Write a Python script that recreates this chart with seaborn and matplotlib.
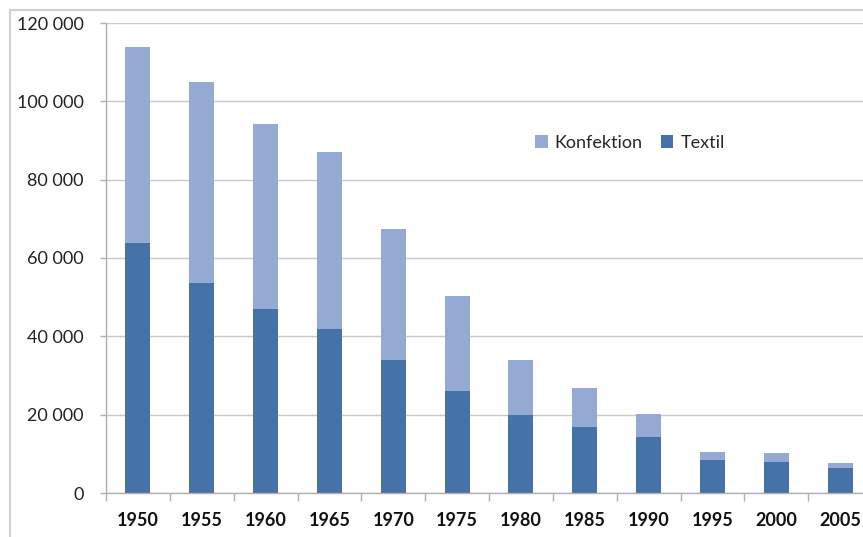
import numpy as np
import pandas as pd
import seaborn as sns
import matplotlib.pyplot as plt
from matplotlib.ticker import FuncFormatter, FixedLocator
from matplotlib.patches import Rectangle

# data
years = ["1950", "1955", "1960", "1965", "1970", "1975", "1980", "1985", "1990", "1995", "2000", "2005"]
textil = [63800, 53600, 47000, 41900, 34000, 26000, 19900, 16900, 14300, 8400, 7900, 6300]
konfektion = [50100, 51400, 47200, 45200, 33400, 24300, 14100, 9900, 5900, 2100, 2300, 1300]

col_konf = "#95AAD3"
col_text = "#4573A8"

df = pd.DataFrame({"year": years, "Textil": textil, "Konfektion": konfektion})
df["total"] = df["Textil"] + df["Konfektion"]

sns.set_style("white")
plt.rcParams["font.family"] = ["Lato", "DejaVu Sans"]

fig = plt.figure(figsize=(8.63, 5.37), dpi=100)
ax = fig.add_axes([106 / 863, 44 / 537, 766 / 863, 470 / 537])

# stacked bars: total first (Konfektion on top), Textil over it
sns.barplot(data=df, x="year", y="total", order=years, color=col_konf,
            width=0.39, saturation=1, label="Konfektion", linewidth=0, ax=ax)
sns.barplot(data=df, x="year", y="Textil", order=years, color=col_text,
            width=0.39, saturation=1, label="Textil", linewidth=0, ax=ax)

ax.set_ylim(0, 120000)
ax.set_xlim(-0.5, len(years) - 0.5)
ax.set_yticks(np.arange(0, 120001, 20000))
ax.yaxis.set_major_formatter(FuncFormatter(lambda v, p: f"{v:,.0f}".replace(",", " ")))
ax.grid(axis="y", color="#c8c8c8", linewidth=1)
ax.set_axisbelow(True)
ax.set_xlabel("")
ax.set_ylabel("")

for s in ["top", "right"]:
    ax.spines[s].set_visible(False)
for s in ["left", "bottom"]:
    ax.spines[s].set_color("#b0b0b0")
    ax.spines[s].set_linewidth(1)

ax.tick_params(axis="y", length=4, width=1, color="#b0b0b0", pad=12, labelsize=13, labelcolor="#222222", left=True)
ax.tick_params(axis="x", which="major", length=0, pad=14, labelsize=13, labelcolor="#111111")
ax.xaxis.set_minor_locator(FixedLocator(np.arange(-0.5, len(years), 1)))
ax.tick_params(axis="x", which="minor", length=6, width=1, color="#b0b0b0", bottom=True)
for lab in ax.get_xticklabels():
    lab.set_fontweight("bold")

ax.legend(ncol=2, loc="center", bbox_to_anchor=(630 / 863, 1 - 143 / 537),
          bbox_transform=fig.transFigure, frameon=False, fontsize=13,
          handlelength=0.7, handleheight=0.7, handletextpad=0.4, columnspacing=1.0)

# outer chart-area border
fig.patches.append(Rectangle((10 / 863, -0.1), 1.2, (537 - 10) / 537 + 0.1,
                             transform=fig.transFigure, fill=False,
                             edgecolor="#d0d0d0", linewidth=1.5))

fig.savefig("out.png", dpi=100)
